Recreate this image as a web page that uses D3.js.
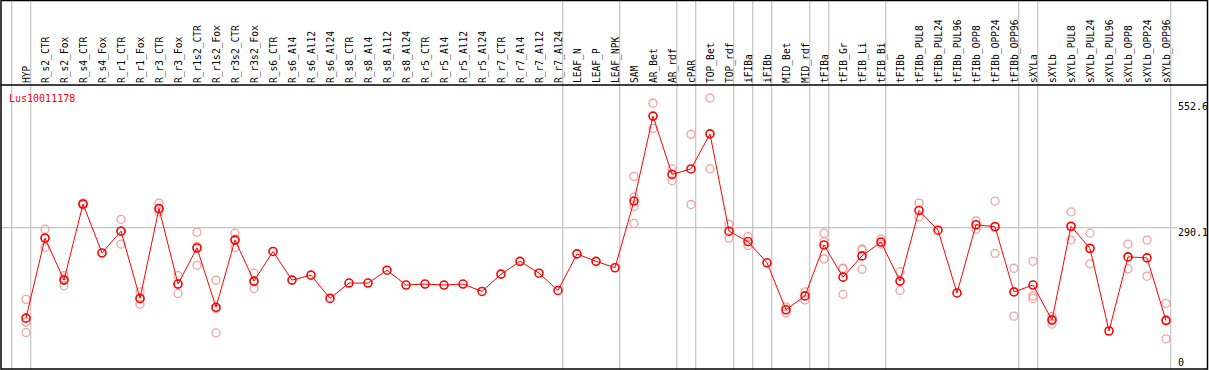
<!DOCTYPE html>
<html>
<head>
<meta charset="utf-8">
<script src="https://cdn.jsdelivr.net/npm/d3@7"></script>
<style>
  html, body { margin: 0; padding: 0; background: #fff; }
  svg { display: block; }
  text { font-family: "DejaVu Sans Mono", "Liberation Mono", monospace; }
</style>
</head>
<body>
<svg id="chart" width="1209" height="370"></svg>
<script>
const categories = [
  "HYP","R_s2_CTR","R_s2_Fox","R_s4_CTR","R_s4_Fox","R_r1_CTR","R_r1_Fox","R_r3_CTR","R_r3_Fox",
  "R_r1s2_CTR","R_r1s2_Fox","R_r3s2_CTR","R_r3s2_Fox","R_s6_CTR","R_s6_Al4","R_s6_Al12","R_s6_Al24",
  "R_s8_CTR","R_s8_Al4","R_s8_Al12","R_s8_Al24","R_r5_CTR","R_r5_Al4","R_r5_Al12","R_r5_Al24",
  "R_r7_CTR","R_r7_Al4","R_r7_Al12","R_r7_Al24","LEAF_N","LEAF_P","LEAF_NPK","SAM","AR_Bet","AR_rdf",
  "cPAR","TOP_Bet","TOP_rdf","iFIBa","iFIBb","MID_Bet","MID_rdf","tFIBa","tFIB_Gr","tFIB_Li","tFIB_Bi",
  "tFIBb","tFIBb_PUL8","tFIBb_PUL24","tFIBb_PUL96","tFIBb_OPP8","tFIBb_OPP24","tFIBb_OPP96",
  "sXYLa","sXYLb","sXYLb_PUL8","sXYLb_PUL24","sXYLb_PUL96","sXYLb_OPP8","sXYLb_OPP24","sXYLb_OPP96"
];

const means = [
  107,269,184,338,239,283,147,329,176,
  249,129,265,182,242,184,194,147,
  178,178,204,174,176,174,176,161,
  196,222,198,163,237,222,209,344,516,398,
  409,480,283,262,219,124,152,255,190,233,261,
  182,325,285,158,296,292,160,
  174,103,293,248,81,231,229,102
];

const replicates = [
  [145,99,78],      // HYP
  [287,250,269],    // R_s2_CTR
  [193,173,187],    // R_s2_Fox
  [340,336,338],    // R_s4_CTR
  [],               // R_s4_Fox
  [307,257,284],    // R_r1_CTR
  [160,135,146],    // R_r1_Fox
  [340,322,327],    // R_r3_CTR
  [193,157,176],    // R_r3_Fox
  [281,214,252],    // R_r1s2_CTR
  [184,77,126],     // R_r1s2_Fox
  [279,250,267],    // R_r3s2_CTR
  [198,167,180],    // R_r3s2_Fox
  [],[],[],[],      // R_s6_*
  [],[],[],[],      // R_s8_*
  [],[],[],[],      // R_r5_*
  [],[],[],[],      // R_r7_*
  [],[],[],         // LEAF_*
  [394,352,333,299],// SAM
  [542,491],        // AR_Bet
  [409,385],        // AR_rdf
  [479,337],        // cPAR
  [552.6,409],      // TOP_Bet
  [297,269],        // TOP_rdf
  [272,254],        // iFIBa
  [],               // iFIBb
  [130,118],        // MID_Bet
  [160,144],        // MID_rdf
  [279,262,227],    // tFIBa
  [208,207,155],    // tFIB_Gr
  [247,245,206],    // tFIB_Li
  [267,257],        // tFIB_Bi
  [201,163],        // tFIBb
  [340,312],        // tFIBb_PUL8
  [],               // tFIBb_PUL24
  [],               // tFIBb_PUL96
  [304,287],        // tFIBb_OPP8
  [344,238,293],    // tFIBb_OPP24
  [208,111,161],    // tFIBb_OPP96
  [222,152,147],    // sXYLa
  [110,95,105],     // sXYLb
  [322,265,292],    // sXYLb_PUL8
  [279,217,249],    // sXYLb_PUL24
  [],               // sXYLb_PUL96
  [257,207],        // sXYLb_OPP8
  [265,192],        // sXYLb_OPP24
  [137,65,104]      // sXYLb_OPP96
];

// group separators: drawn just after these categories (null = before the first)
const groupEnds = [null,"HYP","R_r7_Al24","LEAF_NPK","AR_rdf","cPAR","TOP_rdf","iFIBa","iFIBb",
  "MID_rdf","tFIBa","tFIB_Bi","tFIBb_OPP96","sXYLa","sXYLb_OPP96"];

const yTicks = [0, 290.1, 552.6];
const gridValue = 290.1;
const geneName = "Lus10011178";

const svg = d3.select("#chart");
const W = 1209, H = 370;

const x = d3.scalePoint().domain(categories).range([26, 1166]);
const step = x.step();
const y = d3.scaleLinear().domain([0, 552.6]).range([371, 98]);

const grid = "#c4c4c4";

// vertical separators
svg.append("g").selectAll("line").data(groupEnds).join("line")
  .attr("x1", d => (d === null ? x(categories[0]) - step : x(d)) + 4.7)
  .attr("x2", d => (d === null ? x(categories[0]) - step : x(d)) + 4.7)
  .attr("y1", 0).attr("y2", H)
  .attr("stroke", grid).attr("stroke-width", 1.2);

// horizontal grid line
svg.append("line")
  .attr("x1", 1).attr("x2", 1177)
  .attr("y1", y(gridValue)).attr("y2", y(gridValue))
  .attr("stroke", grid).attr("stroke-width", 1.2);

// header labels
svg.append("g").selectAll("text").data(categories).join("text")
  .attr("transform", d => `translate(${x(d) + 3.5},83) rotate(-90)`)
  .attr("font-size", 9.6)
  .attr("fill", "#000")
  .text(d => d);

// frame
svg.append("rect").attr("x", 1).attr("y", 0.5).attr("width", 1206.5).attr("height", 368.5)
  .attr("fill", "none").attr("stroke", "#000").attr("stroke-width", 1.5);
svg.append("line").attr("x1", 1).attr("x2", 1208).attr("y1", 85).attr("y2", 85)
  .attr("stroke", "#000").attr("stroke-width", 1.5);

// gene label
svg.append("text").attr("x", 9).attr("y", 102).attr("font-size", 10)
  .attr("fill", "#ff0000").text(geneName);

// y labels on the right
const labelDy = v => v === 0 ? -5 : (v === 552.6 ? 12 : 8);
svg.append("g").selectAll("text").data(yTicks).join("text")
  .attr("x", 1178).attr("y", d => y(d) + labelDy(d))
  .attr("font-size", 10).attr("fill", "#000")
  .text(d => String(d));

// replicates
const repPts = [];
categories.forEach((c, i) => replicates[i].forEach(v => repPts.push({c, v})));
svg.append("g").selectAll("circle").data(repPts).join("circle")
  .attr("cx", d => x(d.c)).attr("cy", d => y(d.v)).attr("r", 4)
  .attr("fill", "none").attr("stroke", "#f0a0a0").attr("stroke-width", 1.3);

// mean line
const line = d3.line().x(d => x(d[0])).y(d => y(d[1]));
svg.append("path").datum(categories.map((c, i) => [c, means[i]]))
  .attr("d", line).attr("fill", "none").attr("stroke", "#ff0000").attr("stroke-width", 1);

// mean points
svg.append("g").selectAll("circle").data(categories.map((c, i) => [c, means[i]])).join("circle")
  .attr("cx", d => x(d[0])).attr("cy", d => y(d[1])).attr("r", 4)
  .attr("fill", "none").attr("stroke", "#ff0000").attr("stroke-width", 1.6);
</script>
</body>
</html>
